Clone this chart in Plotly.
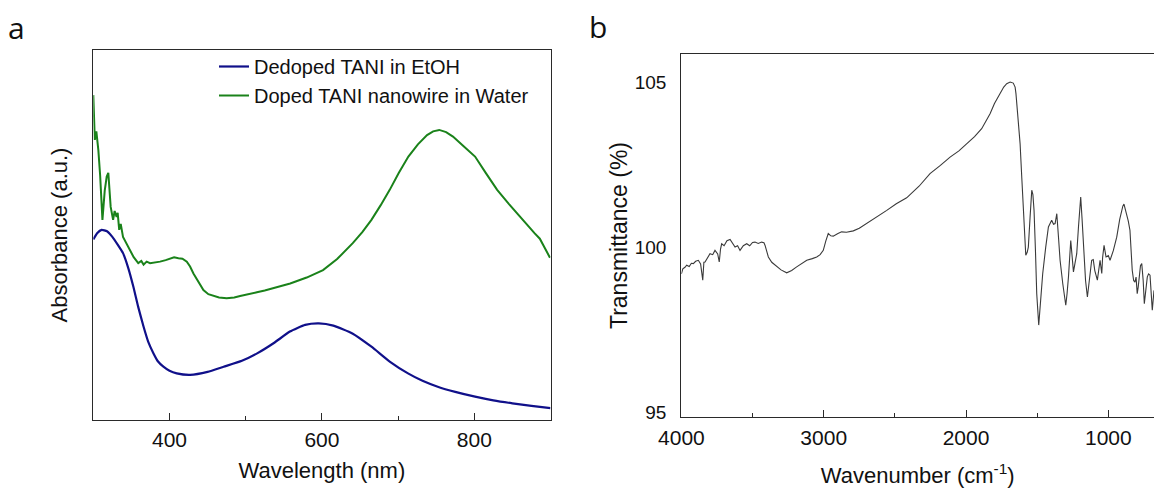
import plotly.graph_objects as go

# ---------------- Panel a: UV-vis ----------------
wl_dedoped = [300, 305, 311, 318, 325, 332, 339, 346, 352.6, 359, 366, 372, 379, 385, 392, 400,
              409.5, 427, 450, 471, 495, 515, 537, 558, 578, 596, 615, 640, 665, 689, 713, 732,
              752, 775, 801, 825, 850, 875, 900]
abs_dedoped = [0.488, 0.505, 0.514, 0.510, 0.495, 0.474, 0.451, 0.410, 0.360, 0.305, 0.252, 0.212,
               0.180, 0.158, 0.144, 0.133, 0.126, 0.122, 0.130, 0.144, 0.160, 0.180, 0.208, 0.239,
               0.257, 0.261, 0.255, 0.234, 0.198, 0.158, 0.126, 0.106, 0.090, 0.076, 0.063, 0.053,
               0.045, 0.038, 0.032]

wl_doped = [300, 301, 302, 304, 306.6, 309, 312, 315, 317.6, 319.7, 321, 322.8, 326, 328, 330.6,
            332, 334, 336, 339, 343, 348, 353, 359, 363, 366, 370, 374.5, 380, 387.6, 395, 400.8,
            406, 411.7, 417, 422.7, 427, 431.4, 438, 444.5, 451, 457.6, 465, 475, 485, 492.7, 503,
            514.7, 525, 536.5, 547, 558.4, 580, 601.5, 620, 640.5, 653, 665, 677, 689, 701, 713.5,
            726, 738, 746, 754, 763, 772, 786, 801, 815, 830, 845, 860, 870, 879, 886, 891.6, 895,
            898.7, 900]
abs_doped = [0.878, 0.800, 0.757, 0.780, 0.730, 0.660, 0.541, 0.620, 0.658, 0.668, 0.620, 0.576,
             0.541, 0.565, 0.549, 0.560, 0.514, 0.530, 0.495, 0.480, 0.459, 0.440, 0.424, 0.430,
             0.420, 0.428, 0.424, 0.425, 0.428, 0.432, 0.437, 0.440, 0.437, 0.436, 0.428, 0.415,
             0.396, 0.372, 0.351, 0.340, 0.335, 0.331, 0.329, 0.331, 0.335, 0.339, 0.345, 0.350,
             0.356, 0.362, 0.369, 0.385, 0.405, 0.435, 0.478, 0.508, 0.541, 0.580, 0.622, 0.668,
             0.712, 0.745, 0.770, 0.780, 0.784, 0.778, 0.766, 0.740, 0.712, 0.668, 0.622, 0.585,
             0.549, 0.525, 0.505, 0.490, 0.468, 0.458, 0.441, 0.440]

# ---------------- Panel b: FTIR ----------------
wavenumber = [4000, 3990, 3975, 3963, 3945, 3930, 3916, 3900, 3881, 3865, 3850, 3842, 3834, 3815,
              3799, 3780, 3764, 3745, 3734, 3725, 3717, 3700, 3680, 3658, 3640, 3623, 3605, 3588,
              3565, 3541, 3520, 3500, 3483, 3460, 3436, 3420, 3412, 3400, 3389, 3365, 3342, 3300,
              3260, 3225, 3190, 3150, 3119, 3080, 3049, 3025, 3003, 2985, 2968, 2950, 2933, 2900,
              2874, 2840, 2792, 2750, 2698, 2630, 2557, 2490, 2417, 2330, 2253, 2180, 2112, 2050,
              1995, 1940, 1890, 1860, 1831, 1800, 1761, 1735, 1714, 1690, 1668, 1655, 1649, 1635,
              1620, 1608, 1597, 1588, 1580, 1570, 1562, 1550, 1538, 1530, 1522, 1512, 1503, 1489,
              1475, 1461, 1440, 1421, 1398, 1385, 1374, 1362, 1350, 1339, 1320, 1299, 1290, 1280,
              1264, 1255, 1245, 1235, 1222, 1210, 1194, 1185, 1175, 1160, 1147, 1130, 1117, 1106,
              1095, 1077, 1068, 1058, 1046, 1040, 1030, 1016, 1000, 988, 965, 941, 920, 906, 898,
              890, 880, 871, 860, 848, 840, 832, 822, 813, 805, 797, 790, 782, 774, 765, 755, 747,
              737, 726, 717, 707, 700, 691, 685, 679]
transmittance = [99.20, 99.35, 99.40, 99.46, 99.42, 99.52, 99.51, 99.58, 99.61, 99.50, 99.01, 99.55,
                 99.56, 99.70, 99.81, 99.78, 99.91, 99.80, 99.56, 99.95, 100.11, 100.05, 100.20,
                 100.24, 100.10, 100.01, 100.05, 99.91, 100.05, 100.11, 100.05, 100.15, 100.16,
                 100.12, 100.16, 100.14, 100.06, 99.90, 99.71, 99.55, 99.46, 99.32, 99.23, 99.30,
                 99.41, 99.52, 99.61, 99.66, 99.71, 99.78, 99.91, 100.20, 100.42, 100.35, 100.34,
                 100.42, 100.47, 100.46, 100.50, 100.58, 100.72, 100.92, 101.12, 101.32, 101.50,
                 101.85, 102.23, 102.48, 102.73, 102.92, 103.14, 103.35, 103.59, 103.80, 104.04,
                 104.35, 104.65, 104.85, 104.95, 105.00, 104.97, 104.85, 104.65, 104.0, 103.14,
                 102.1, 101.12, 100.3, 99.76, 99.85, 100.01, 100.9, 101.73, 101.6, 101.12, 99.9,
                 98.60, 97.65, 98.4, 99.21, 100.0, 100.62, 100.82, 100.70, 100.72, 101.02, 100.3,
                 99.61, 98.9, 98.25, 98.6, 99.11, 100.21, 99.7, 99.26, 99.5, 99.81, 100.6, 101.52,
                 100.9, 100.01, 99.0, 98.50, 99.1, 99.61, 99.63, 99.3, 99.01, 99.4, 99.61, 99.21,
                 99.7, 100.06, 99.71, 99.75, 99.61, 99.9, 100.31, 100.85, 101.12, 101.25, 101.31,
                 101.15, 101.02, 100.8, 100.52, 99.9, 99.31, 99.0, 98.95, 99.1, 98.60, 98.8, 99.11,
                 99.45, 99.51, 99.0, 98.30, 98.8, 99.11, 99.2, 99.16, 98.7, 98.10, 98.4, 98.70]

ftir_ticks = [4000, 3000, 2000, 1000]
trans_ticks = [95, 100, 105]

W, H = 1154, 488
FONT = "Liberation Sans, Arial, sans-serif"
AX = "#2a2a2a"

fig = go.Figure()
fig.add_trace(go.Scatter(x=wl_dedoped, y=abs_dedoped, mode="lines", name="Dedoped TANI in EtOH",
                         line=dict(color="#10108a", width=2.2, shape="spline", smoothing=0.5),
                         xaxis="x", yaxis="y"))
fig.add_trace(go.Scatter(x=wl_doped, y=abs_doped, mode="lines", name="Doped TANI nanowire in Water",
                         line=dict(color="#1a821a", width=2.0),
                         xaxis="x", yaxis="y"))
fig.add_trace(go.Scatter(x=wavenumber, y=transmittance, mode="lines", showlegend=False,
                         line=dict(color="#3a3a3a", width=1.1),
                         xaxis="x2", yaxis="y2"))

fig.update_layout(
    width=W, height=H,
    margin=dict(l=0, r=0, t=0, b=0, autoexpand=False),
    paper_bgcolor="white", plot_bgcolor="white",
    font=dict(family=FONT, color="#111", size=21),
    showlegend=True,
    legend=dict(x=214 / W, y=1 - 47 / H, xanchor="left", yanchor="top",
                bgcolor="rgba(0,0,0,0)", font=dict(size=20, family=FONT, color="#111"),
                tracegroupgap=0, itemwidth=30),
    xaxis=dict(domain=[93.3 / W, 550.5 / W], range=[300, 900], anchor="y", automargin=False,
               showline=True, linecolor=AX, linewidth=1.3, mirror=True,
               ticks="inside", ticklen=7, tickwidth=1.3, tickcolor=AX,
               tick0=0, dtick=200,
               minor=dict(ticks="inside", ticklen=4, tickwidth=1.3, tickcolor=AX, tick0=0, dtick=100),
               showgrid=False, zeroline=False, tickfont=dict(size=21),
               ticklabelstandoff=1,
               title=dict(text="Wavelength (nm)", font=dict(size=22), standoff=12)),
    yaxis=dict(domain=[(H - 420) / H, (H - 50) / H], range=[0, 1], anchor="x", automargin=False,
               showline=True, linecolor=AX, linewidth=1.3, mirror=True,
               ticks="", showticklabels=False, showgrid=False, zeroline=False,
               title=dict(text="Absorbance (a.u.)", font=dict(size=22), standoff=18)),
    xaxis2=dict(domain=[681.4 / W, 1.0], range=[4000, 679], anchor="y2", automargin=False,
                showline=True, linecolor=AX, linewidth=1.3, mirror=True,
                ticks="inside", ticklen=7, tickwidth=1.3, tickcolor=AX,
                tickvals=ftir_ticks, ticktext=[str(v) for v in ftir_ticks],
                minor=dict(ticks="inside", ticklen=4, tickwidth=1.3, tickcolor=AX, tick0=0, dtick=500),
                showgrid=False, zeroline=False, tickfont=dict(size=21),
                ticklabelstandoff=2,
                title=dict(text="Wavenumber (cm<sup>-1</sup>)", font=dict(size=22), standoff=20)),
    yaxis2=dict(domain=[(H - 417) / H, (H - 54) / H], range=[94.87, 105.85], anchor="x2", automargin=False,
                showline=True, linecolor=AX, linewidth=1.3, mirror=False,
                ticks="", tickvals=trans_ticks, ticktext=[str(v) for v in trans_ticks],
                showgrid=False, zeroline=False, tickfont=dict(size=19),
                ticklabelstandoff=10,
                title=dict(text="Transmittance (%)", font=dict(size=23), standoff=0)),
    annotations=[
        dict(text="a", x=16 / W, y=1 - 28 / H, xref="paper", yref="paper", showarrow=False,
             xanchor="center", yanchor="middle", font=dict(size=30, family="Open Sans", color="#111")),
        dict(text="b", x=598 / W, y=1 - 26 / H, xref="paper", yref="paper", showarrow=False,
             xanchor="center", yanchor="middle", font=dict(size=30, family="Open Sans", color="#111")),
    ],
)

fig.write_html("out.html")
